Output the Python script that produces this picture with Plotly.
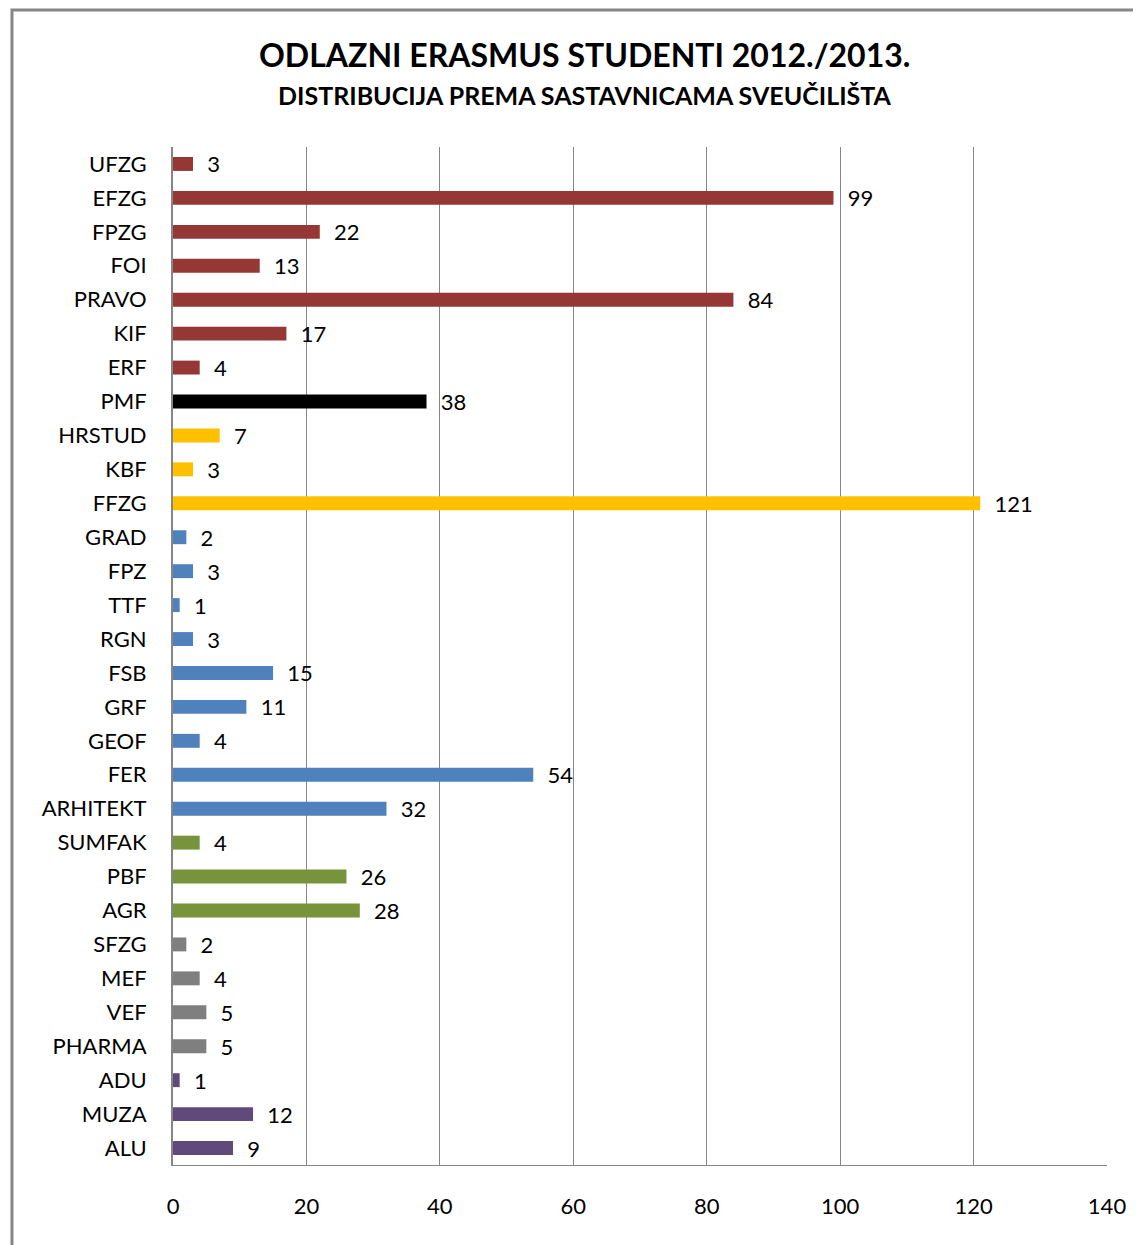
import plotly.graph_objects as go

# data
categories = ['UFZG', 'EFZG', 'FPZG', 'FOI', 'PRAVO', 'KIF', 'ERF', 'PMF',
              'HRSTUD', 'KBF', 'FFZG', 'GRAD', 'FPZ', 'TTF', 'RGN', 'FSB',
              'GRF', 'GEOF', 'FER', 'ARHITEKT', 'SUMFAK', 'PBF', 'AGR',
              'SFZG', 'MEF', 'VEF', 'PHARMA', 'ADU', 'MUZA', 'ALU']
values = [3, 99, 22, 13, 84, 17, 4, 38, 7, 3, 121, 2, 3, 1, 3, 15, 11, 4,
          54, 32, 4, 26, 28, 2, 4, 5, 5, 1, 12, 9]
group_sizes = [7, 1, 3, 9, 3, 4, 3]
group_colors = ['#953735', '#000000', '#FFC000', '#4F81BD', '#77933C',
                '#7F7F7F', '#604A7B']
x_ticks = [0, 20, 40, 60, 80, 100, 120, 140]

bar_colors = []
for n, c in zip(group_sizes, group_colors):
    bar_colors += [c] * n

font = 'Lato, Open Sans, sans-serif'
grid = '#868686'

fig = go.Figure(go.Bar(
    x=values, y=categories, orientation='h',
    marker=dict(color=bar_colors, line=dict(width=0)),
    text=values, texttemplate='  %{x}', textposition='outside',
    constraintext='none',
    textfont=dict(size=22, color='#000000', family=font),
    cliponaxis=False,
))

# the page body has an 8px margin, so the figure is 8px smaller and shifted
fig.update_layout(
    width=1133, height=1237,
    margin=dict(l=165, r=34, t=139, b=80),
    paper_bgcolor='white', plot_bgcolor='white',
    showlegend=False,
    bargap=0.59,
    font=dict(family=font, size=22, color='#000000'),
    xaxis=dict(range=[0, 140], tickvals=x_ticks, showgrid=True,
               gridcolor=grid, gridwidth=1, showline=True, linecolor=grid,
               linewidth=1, zeroline=False, ticks='', ticklabelstandoff=22,
               tickfont=dict(size=22)),
    yaxis=dict(autorange='reversed', showline=True, linecolor=grid,
               linewidth=2, ticks='', ticklabelstandoff=20,
               tickfont=dict(size=22), showgrid=False),
    shapes=[dict(type='rect', xref='paper', yref='paper',
                 x0=-0.1724, x1=1.2, y0=-0.2, y1=1.1346,
                 line=dict(color='#868686', width=3), layer='below')],
    annotations=[
        dict(text='<b>ODLAZNI ERASMUS STUDENTI 2012./2013.</b>',
             xref='paper', yref='paper', x=0.441, y=1.0904,
             xanchor='center', yanchor='middle',
             showarrow=False, font=dict(size=32, family=font)),
        dict(text='<b>DISTRIBUCIJA PREMA SASTAVNICAMA SVEUČILIŠTA</b>',
             xref='paper', yref='paper', x=0.441, y=1.0511,
             xanchor='center', yanchor='middle',
             showarrow=False, font=dict(size=25, family=font)),
    ],
)

fig.write_html('out.html')
